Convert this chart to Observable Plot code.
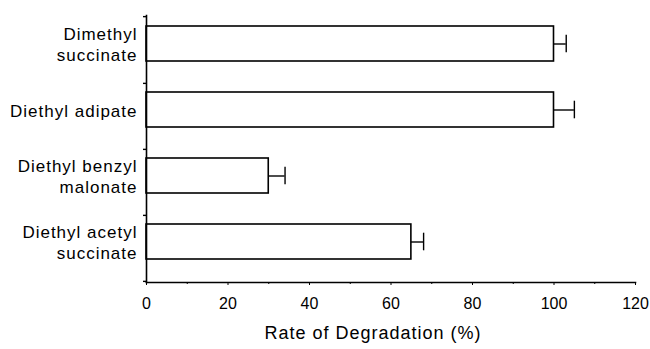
<!DOCTYPE html>
<html>
<head>
<meta charset="utf-8">
<script src="https://cdn.jsdelivr.net/npm/d3@7"></script>
<script src="https://cdn.jsdelivr.net/npm/@observablehq/plot@0.6"></script>
<style>
  html, body { margin: 0; padding: 0; background: #fff; }
  svg { display: block; }
</style>
</head>
<body>
<div id="chart"></div>
<script>
// ---- data ----
const compounds = ["Dimethyl\nsuccinate", "Diethyl adipate", "Diethyl benzyl\nmalonate", "Diethyl acetyl\nsuccinate"];
const rates = [100, 100, 30, 65];
const errors = [3, 5, 4, 3];
const xTicks = [0, 20, 40, 60, 80, 100, 120];
const xMinorTicks = [10, 30, 50, 70, 90, 110];
const xLabel = "Rate of Degradation (%)";

const data = compounds.map((name, i) => ({name, rate: rates[i], err: errors[i]}));

// ---- layout ----
const W = 650, H = 349;
const mTop = 15, mBottom = 67, mLeft = 146, mRight = 15;
const padInner = 0.47, padOuter = padInner / 2;
const step = (H - mTop - mBottom) / (compounds.length - padInner + 2 * padOuter);
const shift = -6;
const font = "'Liberation Sans', Arial, Helvetica, sans-serif";

const chart = Plot.plot({
  width: W,
  height: H,
  marginTop: mTop,
  marginBottom: mBottom,
  marginLeft: mLeft,
  marginRight: mRight,
  style: {fontFamily: font, fontSize: "16px", color: "#000", background: "#fff"},
  x: {domain: [0, 120], axis: null},
  y: {domain: compounds, paddingInner: padInner, paddingOuter: padOuter, axis: null},
  marks: [
    // bars
    Plot.barX(data, {y: "name", x: "rate", dy: shift, fill: "#fff", stroke: "#000", strokeWidth: 1.6}),
    // error bars
    Plot.ruleY(data, {y: "name", x1: "rate", x2: d => d.rate + d.err, dy: shift, stroke: "#000", strokeWidth: 1.4}),
    Plot.tickX(data, {y: "name", x: d => d.rate + d.err, dy: shift, insetTop: 8.7, insetBottom: 8.7, stroke: "#000", strokeWidth: 1.4}),
    // axis lines
    Plot.frame({anchor: "left", stroke: "#000", strokeWidth: 1.6}),
    Plot.frame({anchor: "bottom", stroke: "#000", strokeWidth: 1.6}),
    // y boundary ticks
    Plot.ruleY(compounds, {y: d => d, x1: 0, x2: 0, insetLeft: -3, dy: step / 2, stroke: "#000", strokeWidth: 1.4}),
    Plot.ruleY(compounds.slice(0, 1), {y: d => d, x1: 0, x2: 0, insetLeft: -3, dy: -step / 2, stroke: "#000", strokeWidth: 1.4}),
    // y labels
    Plot.text(data, {
      y: "name", x: 0, text: "name", textAnchor: "end", dx: -9, dy: shift,
      fontSize: 17, lineHeight: 1.2, fill: "#000"
    }),
    // x axis
    Plot.axisX({ticks: xTicks, tickSize: 3, tickPadding: 12, tickFormat: d => String(d), label: null, fontSize: 16, stroke: "#000", fill: "#000"}),
    Plot.axisX({ticks: xMinorTicks, tickSize: 2, tickFormat: () => "", label: null, stroke: "#000"}),
    // x title
    Plot.text([xLabel], {text: d => d, frameAnchor: "bottom", dy: 56, dx: -18, fontSize: 18, fill: "#000"})
  ]
});
// widen the label glyph spacing to match the reference's wide lettering
d3.select(chart).selectAll('g[aria-label="text"]').attr("letter-spacing", "1px");
d3.select(chart).selectAll('g[aria-label="x-axis tick label"]').attr("font-size", 16).attr("font-family", font);
document.getElementById("chart").appendChild(chart);
</script>
</body>
</html>
